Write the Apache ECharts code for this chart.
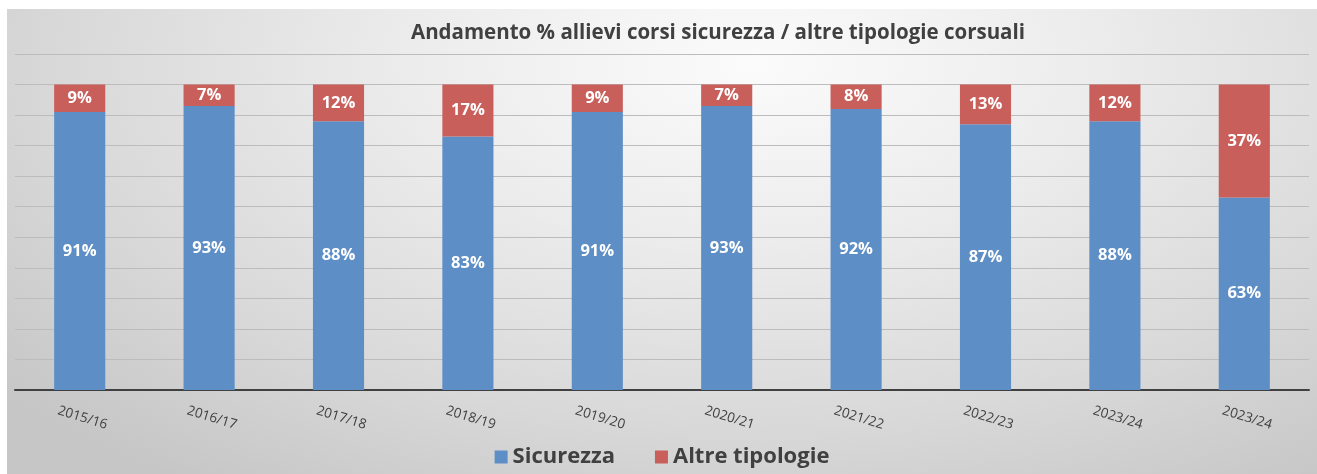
<!DOCTYPE html>
<html><head><meta charset="utf-8">
<script src="https://cdn.jsdelivr.net/npm/echarts@6/dist/echarts.min.js"></script>
<style>
html,body{margin:0;padding:0;background:#fff;width:1317px;height:474px;overflow:hidden}
#c{position:absolute;left:7px;top:9px;width:1310px;height:465px;
background:radial-gradient(ellipse 75% 110% at 57% 12%, #fbfbfb 0%, #ececec 35%, #d9d9d9 70%, #c6c6c6 100%);}
</style></head>
<body><div id="c"></div>
<script>
const categories = ['2015/16','2016/17','2017/18','2018/19','2019/20','2020/21','2021/22','2022/23','2023/24','2023/24'];
const sicurezza = [91,93,88,83,91,93,92,87,88,63];
const altre = [9,7,12,17,9,7,8,13,12,37];
const yTicks = {min:0, max:110, interval:10};

const chart = echarts.init(document.getElementById('c'), null, {renderer:'canvas'});
const font = '"Open Sans", "Noto Sans", sans-serif';
chart.setOption({
  animation:false,
  textStyle:{fontFamily:font},
  title:{text:'Andamento % allievi corsi sicurezza / altre tipologie corsuali',
    left:706, textAlign:'center', top:9,
    textStyle:{fontFamily:font, fontSize:20.5, fontWeight:'bold', color:'#404040'}},
  legend:{bottom:1, left:'center', itemWidth:13, itemHeight:13, itemGap:40, icon:'rect',
    textStyle:{fontFamily:font, fontSize:22, fontWeight:'bold', color:'#404040'},
    data:['Sicurezza','Altre tipologie']},
  grid:{left:8, right:8, top:45, bottom:84, containLabel:false},
  xAxis:{type:'category', data:categories,
    axisLine:{lineStyle:{color:'#404040', width:2}},
    axisTick:{show:false},
    axisLabel:{rotate:-17, align:'center', verticalAlign:'middle', margin:27, interval:0,
      fontSize:13.5, color:'#404040', fontFamily:font, padding:[0,0,0,6]}},
  yAxis:{type:'value', min:yTicks.min, max:yTicks.max, interval:yTicks.interval,
    axisLabel:{show:false}, axisLine:{show:false}, axisTick:{show:false},
    splitLine:{lineStyle:{color:'#bcbcbc', width:1}}},
  series:[
    {name:'Sicurezza', type:'bar', stack:'s', data:sicurezza, barWidth:'39.5%',
     itemStyle:{color:'#5e8ec6'},
     label:{show:true, position:'inside', formatter:'{c}%', color:'#fff', fontSize:16.5, fontWeight:'bold', fontFamily:font}},
    {name:'Altre tipologie', type:'bar', stack:'s', data:altre, barWidth:'39.5%',
     itemStyle:{color:'#c95f5b'},
     label:{show:true, position:'inside', formatter:'{c}%', color:'#fff', fontSize:16.5, fontWeight:'bold', fontFamily:font}}
  ]
});
</script></body></html>
